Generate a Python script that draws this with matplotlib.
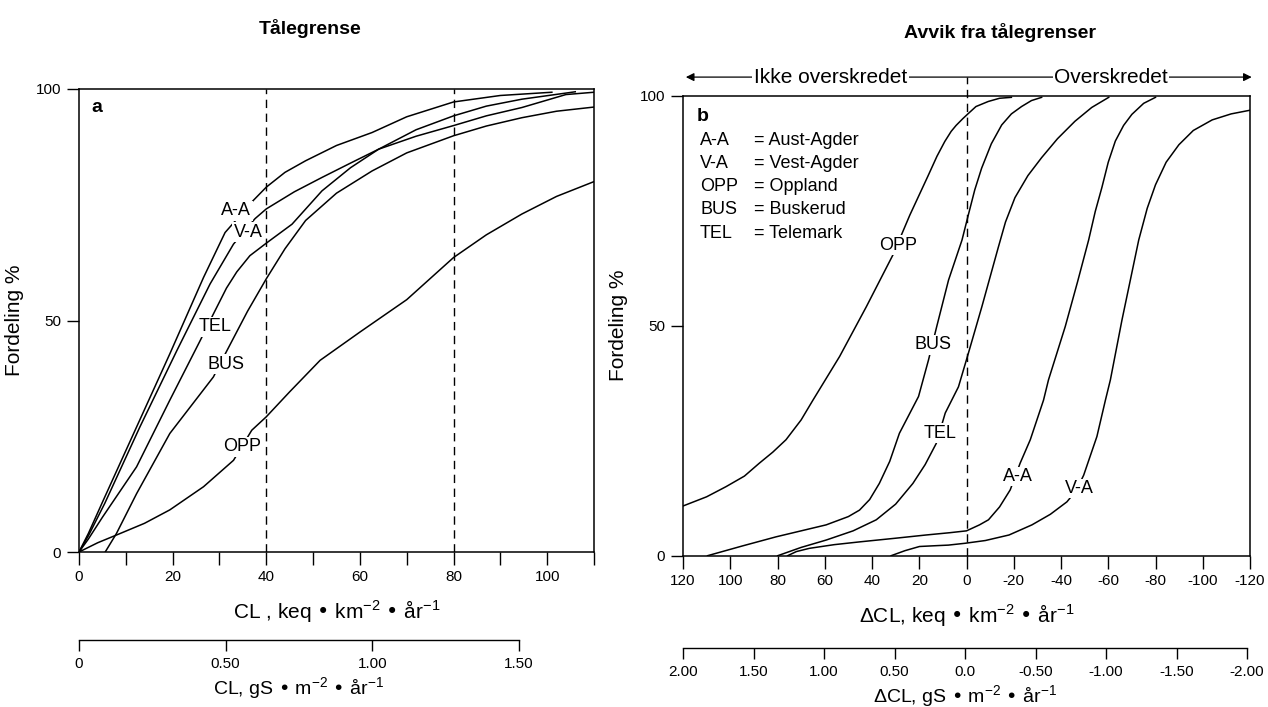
import matplotlib
matplotlib.use('Agg')
import matplotlib.pyplot as plt

plt.rcParams['font.family'] = ['Liberation Sans', 'DejaVu Sans']
plt.rcParams['mathtext.default'] = 'regular'

# ---- panel a: critical load (CL, keq/km2/yr) vs cumulative share (%) ----
aa_x = [0, 2, 5.2, 12.3, 19.4, 26.6, 31.2, 37.2, 40, 44, 48.4, 55, 62.6, 70, 80, 90, 101]
aa_y = [0, 4, 11.2, 27.0, 42.8, 59.3, 69.0, 75.9, 78.8, 82.0, 84.5, 87.8, 90.6, 94.0, 97.2, 98.6, 99.3]
va_x = [0, 2, 5.5, 13.0, 20.9, 28, 33, 37.6, 40, 46, 51.9, 58, 64, 72, 80, 87, 94.6, 104, 110]
va_y = [0, 3.5, 10.5, 27.0, 43.5, 57.9, 66.5, 72.0, 74.1, 77.8, 80.9, 84.0, 87.0, 89.8, 92.1, 94.2, 96.0, 98.8, 99.3]
tel_x = [0, 2, 5, 12.3, 19.4, 25.9, 28.7, 31.5, 33.7, 36.5, 40, 45.5, 51.9, 58, 64, 72, 80, 87, 94.6, 106]
tel_y = [0, 2.8, 7.5, 18.4, 32.8, 45.7, 51.4, 57.0, 60.5, 64.0, 66.7, 70.8, 78.0, 83.0, 87.0, 91.2, 94.2, 96.3, 97.8, 99.4]
bus_x = [5.6, 8, 12.3, 19.4, 28.7, 31.6, 36, 40, 44, 48.4, 55, 62.6, 70, 80, 87, 94.6, 102, 110]
bus_y = [0, 4, 12.6, 25.6, 37.8, 43.5, 52.0, 59.0, 65.5, 71.6, 77.5, 82.3, 86.2, 89.9, 92.0, 93.8, 95.2, 96.1]
opp_x = [0, 4, 8.8, 14, 19.4, 26.6, 33, 36.9, 40, 45, 51.5, 60, 70, 80, 87, 94.6, 102, 110]
opp_y = [0, 2.0, 4.0, 6.2, 9.1, 14.1, 19.8, 26.3, 29.2, 34.6, 41.4, 47.5, 54.5, 63.6, 68.5, 73.0, 76.8, 80.0]

a_labels = ['A-A', 'V-A', 'TEL', 'BUS', 'OPP']
a_label_x = [33.6, 36.1, 29.0, 31.5, 34.9]
a_label_y = [73.7, 69.1, 48.6, 40.6, 22.7]
a_xticks = list(range(0, 111, 10))
a_xticklabels = ['0', '', '20', '', '40', '', '60', '', '80', '', '100', '']
a_gs_ticks = [0, 0.5, 1.0, 1.5]
a_gs_labels = ['0', '0.50', '1.00', '1.50']

# ---- panel b: exceedance (delta CL) vs cumulative share (%) ----
b_opp_x = [120, 110, 101.8, 94, 87.7, 82, 76.4, 70, 65, 53.7, 42.4, 31.1, 24, 16.4, 12.5,
           9.2, 6.5, 4.4, 1.5, -0.8, -4, -9.2, -14, -19]
b_opp_y = [10.8, 12.8, 15.0, 17.3, 20.1, 22.5, 25.2, 29.5, 33.8, 43.3, 54.1, 65.4, 74.0, 82.4, 86.8,
           90.0, 92.2, 93.5, 95.0, 96.1, 97.6, 98.7, 99.4, 99.6]
b_bus_x = [109.6, 95, 80.6, 70, 59.4, 50, 45.3, 41, 36.9, 32.5, 28.4, 20.3, 16.1, 12.6, 7.6,
           1.9, -0.8, -3.5, -6.4, -10.5, -14.9, -19, -23.3, -27.5, -31.8]
b_bus_y = [0, 2.1, 4.1, 5.4, 6.7, 8.5, 9.9, 12.2, 15.7, 20.5, 26.6, 34.6, 42.5, 49.8, 59.9,
           68.6, 74.1, 79.5, 84.2, 89.5, 93.6, 96.0, 97.6, 98.9, 99.6]
b_tel_x = [79.9, 70, 59.4, 48, 38.2, 30, 22.7, 17.5, 12.8, 9.0, 3.4, -0.8, -6.5, -13.4, -16.5,
           -20.5, -26, -31.8, -38.5, -45.9, -53, -60.2]
b_tel_y = [0, 1.8, 3.4, 5.4, 7.8, 11.2, 15.7, 19.8, 24.4, 31.0, 36.7, 44.0, 54.1, 66.9, 72.5,
           77.8, 82.6, 86.5, 90.6, 94.4, 97.4, 99.6]
b_aa_x = [75.7, 72, 66.5, 56, 45.3, 30, 17.1, 7, 0, -5.5, -9.3, -14, -18.5, -22.7, -27, -32.6,
          -34.7, -41.8, -47, -51.7, -54.5, -57.3, -60, -63, -66.5, -70, -75, -80]
b_aa_y = [0, 0.9, 1.6, 2.4, 3.0, 3.8, 4.5, 5.0, 5.4, 6.7, 7.8, 10.6, 14.3, 20.1, 25.2, 33.8,
          38.2, 49.8, 59.5, 68.6, 74.8, 80.0, 85.5, 90.1, 93.5, 95.9, 98.3, 99.6]
b_va_x = [31.9, 26, 19.9, 12, 7.7, 0.6, -8, -18, -27.7, -35.5, -42.5, -46.5, -49.6, -55.2,
          -58.8, -60.9, -65.8, -72.9, -76.5, -80, -84.5, -89.9, -96, -104, -112, -120]
b_va_y = [0, 1.1, 2.0, 2.2, 2.3, 2.7, 3.3, 4.5, 6.7, 9.0, 11.7, 14.2, 17.5, 25.9,
          33.8, 38.2, 51.2, 68.6, 75.5, 80.6, 85.5, 89.3, 92.4, 94.7, 96.0, 96.8]

b_labels = ['OPP', 'BUS', 'TEL', 'A-A', 'V-A']
b_label_x = [29, 14.3, 11.4, -21.7, -47.9]
b_label_y = [67.5, 45.8, 26.6, 17.2, 14.6]
b_xticks = list(range(120, -121, -20))
b_gs_ticks = [2.0, 1.5, 1.0, 0.5, 0.0, -0.5, -1.0, -1.5, -2.0]
b_gs_labels = ['2.00', '1.50', '1.00', '0.50', '0.0', '-0.50', '-1.00', '-1.50', '-2.00']

legend_abbr = ['A-A', 'V-A', 'OPP', 'BUS', 'TEL']
legend_names = ['= Aust-Agder', '= Vest-Agder', '= Oppland', '= Buskerud', '= Telemark']

W, H = 1268, 707
fig = plt.figure(figsize=(W / 100, H / 100), dpi=100)


def box(x0, y_top, x1, y_bot):
    # pixel box -> figure fraction
    return [x0 / W, 1 - y_bot / H, (x1 - x0) / W, (y_bot - y_top) / H]


label_box = dict(facecolor='white', edgecolor='none', pad=1.0)
line_kw = dict(color='black', lw=1.1, solid_joinstyle='round')


def style_axes(ax):
    for s in ax.spines.values():
        s.set_linewidth(1.1)
    ax.tick_params(direction='out', length=9, width=1.0, labelsize=11, pad=4)
    ax.set_ylim(0, 100)
    ax.set_yticks([0, 50, 100])
    ax.set_ylabel('Fordeling %', fontsize=15, labelpad=8)


def gs_axis(rect, xlim, ticks, labels, xlabel):
    sx = fig.add_axes(rect)
    sx.set_xlim(*xlim)
    sx.set_ylim(0, 1)
    for side in ['top', 'left', 'right']:
        sx.spines[side].set_visible(False)
    sx.spines['bottom'].set_linewidth(1.0)
    sx.set_yticks([])
    sx.set_xticks(ticks)
    sx.set_xticklabels(labels)
    sx.tick_params(direction='out', length=8, width=1.0, labelsize=11, pad=4)
    sx.set_xlabel(xlabel, fontsize=14, labelpad=3)
    sx.patch.set_visible(False)
    return sx


# panel a
ax1 = fig.add_axes(box(79, 89, 594, 552))
for xs, ys in [(aa_x, aa_y), (va_x, va_y), (tel_x, tel_y), (bus_x, bus_y), (opp_x, opp_y)]:
    ax1.plot(xs, ys, **line_kw)
for lab, lx, ly in zip(a_labels, a_label_x, a_label_y):
    ax1.text(lx, ly, lab, fontsize=13, ha='center', va='center', bbox=label_box, zorder=4)
for xv in [40, 80]:
    ax1.plot([xv, xv], [0, 100], color='black', lw=1.0, ls=(0, (6, 4)))
ax1.set_xlim(0, 110)
ax1.set_xticks(a_xticks)
ax1.set_xticklabels(a_xticklabels)
style_axes(ax1)
ax1.set_xlabel('CL , keq • km$^{-2}$ • år$^{-1}$', fontsize=15, labelpad=10)
ax1.text(0.025, 0.96, 'a', transform=ax1.transAxes, fontsize=14, fontweight='bold',
         ha='left', va='center')

gs_axis(box(79, 630, 519, 640), (0, 1.5), a_gs_ticks, a_gs_labels,
        'CL, gS • m$^{-2}$ • år$^{-1}$')

# panel b
ax2 = fig.add_axes(box(683, 95.5, 1250, 555.7))
for xs, ys in [(b_opp_x, b_opp_y), (b_bus_x, b_bus_y), (b_tel_x, b_tel_y),
               (b_aa_x, b_aa_y), (b_va_x, b_va_y)]:
    ax2.plot(xs, ys, **line_kw)
for lab, lx, ly in zip(b_labels, b_label_x, b_label_y):
    ax2.text(lx, ly, lab, fontsize=13, ha='center', va='center', bbox=label_box, zorder=4)
ax2.plot([0, 0], [0, 104], color='black', lw=1.0, ls=(0, (6, 4)), clip_on=False)
ax2.set_xlim(120, -120)
ax2.set_xticks(b_xticks)
ax2.set_xticklabels([str(v) for v in b_xticks])
style_axes(ax2)
ax2.set_xlabel('ΔCL, keq • km$^{-2}$ • år$^{-1}$', fontsize=15, labelpad=10)
ax2.text(0.025, 0.955, 'b', transform=ax2.transAxes, fontsize=14, fontweight='bold',
         ha='left', va='center')
for i, (ab, nm) in enumerate(zip(legend_abbr, legend_names)):
    yy = 0.903 - i * 0.0505
    ax2.text(0.03, yy, ab, transform=ax2.transAxes, fontsize=13, va='center')
    ax2.text(0.125, yy, nm, transform=ax2.transAxes, fontsize=13, va='center')

# double arrow above panel b
ax2.annotate('', xy=(1.003, 1.04), xytext=(0.005, 1.04), xycoords='axes fraction',
             arrowprops=dict(arrowstyle='<|-|>', color='black', lw=0.9,
                             mutation_scale=12, shrinkA=0, shrinkB=0,
                             facecolor='white'))
ax2.text(0.26, 1.04, 'Ikke overskredet', transform=ax2.transAxes, fontsize=15,
         ha='center', va='center', bbox=dict(facecolor='white', edgecolor='none', pad=1))
ax2.text(0.755, 1.04, 'Overskredet', transform=ax2.transAxes, fontsize=15,
         ha='center', va='center', bbox=dict(facecolor='white', edgecolor='none', pad=1))

gs_axis(box(683, 638, 1247, 648), (2, -2), b_gs_ticks, b_gs_labels,
        'ΔCL, gS • m$^{-2}$ • år$^{-1}$')

fig.text(310 / W, 1 - 28 / H, 'Tålegrense', fontsize=14, fontweight='bold',
         ha='center', va='center')
fig.text(1000 / W, 1 - 33 / H, 'Avvik fra tålegrenser', fontsize=14, fontweight='bold',
         ha='center', va='center')

fig.savefig('out.png', dpi=100)
